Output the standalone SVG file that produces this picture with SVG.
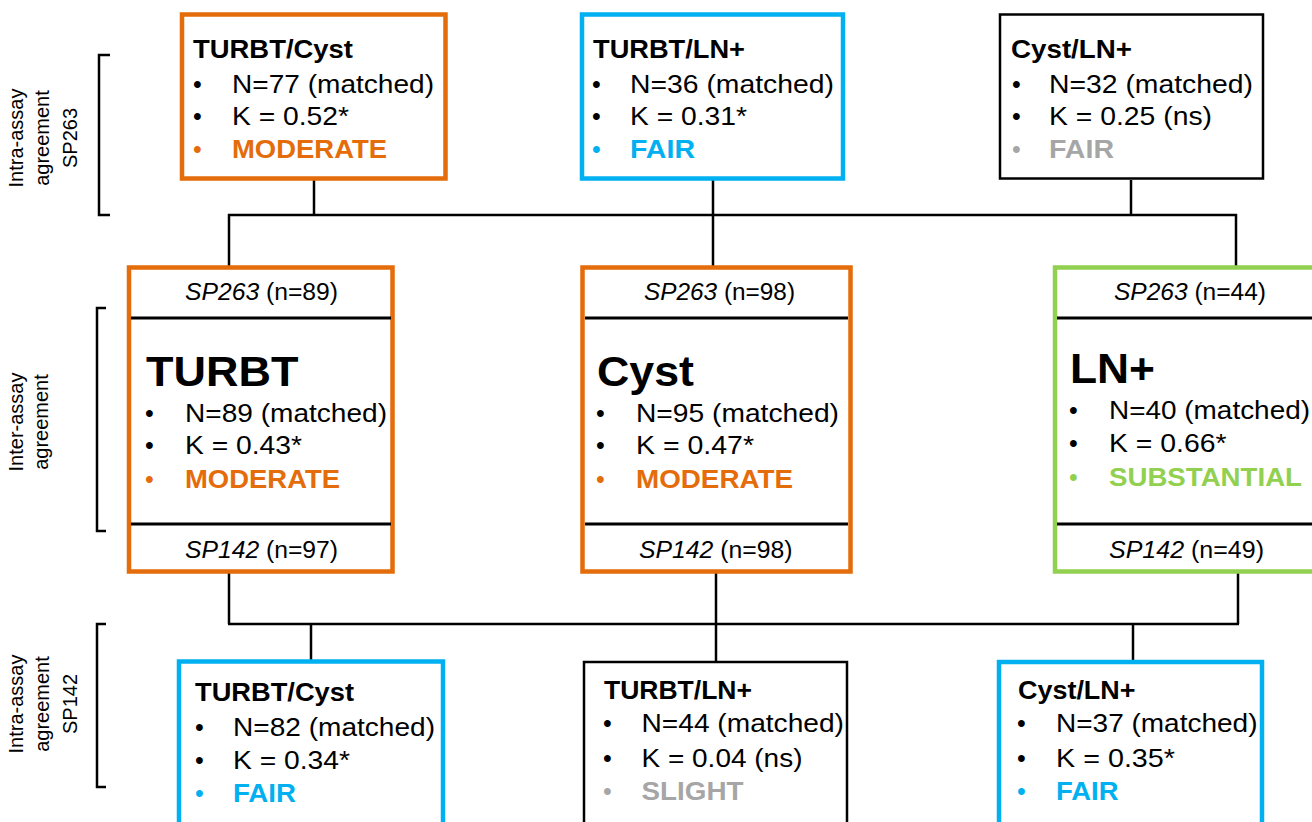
<svg xmlns="http://www.w3.org/2000/svg" width="1312" height="822" viewBox="0 0 1312 822">
<style>
text { font-family: "Liberation Sans", Arial, sans-serif; fill: #000; }
.t { font-size: 25px; font-weight: bold; }
.r { font-size: 25px; }
.k { font-size: 25px; font-weight: bold; }
.sp { font-size: 23px; }
.big { font-size: 42px; font-weight: bold; }
.side { font-size: 20px; }
.org { fill: #E46C0A; }
.blu { fill: #00B0F0; }
.grn { fill: #92D050; }
.gry { fill: #A6A6A6; }
.bo { fill: #fff; stroke: #E46C0A; stroke-width: 4.5; }
.bb { fill: #fff; stroke: #00B0F0; stroke-width: 4.5; }
.bg { fill: #fff; stroke: #92D050; stroke-width: 4.5; }
.bk { fill: #fff; stroke: #000; stroke-width: 2.5; }
.div { stroke: #000; stroke-width: 3; }
.con line, .brk path { stroke: #000; stroke-width: 2.5; fill: none; }
</style>

<g class="con" id="connectors">
  <line x1="314" y1="180" x2="314" y2="215"/>
  <line x1="713" y1="180" x2="713" y2="266"/>
  <line x1="1131" y1="180" x2="1131" y2="215"/>
  <line x1="228" y1="215" x2="1237" y2="215"/>
  <line x1="229" y1="214" x2="229" y2="266"/>
  <line x1="1236" y1="214" x2="1236" y2="266"/>
  <line x1="229" y1="573" x2="229" y2="624"/>
  <line x1="716" y1="573" x2="716" y2="661"/>
  <line x1="1238" y1="573" x2="1238" y2="624"/>
  <line x1="228" y1="624" x2="1239" y2="624"/>
  <line x1="311" y1="624" x2="311" y2="660"/>
  <line x1="1133" y1="624" x2="1133" y2="661"/>
</g>

<g class="brk" id="brackets">
  <path d="M110,55 H99 V215 H110"/>
  <path d="M106,308 H97 V531 H106"/>
  <path d="M106,624 H97 V787 H106"/>
</g>

<g id="label-intra-sp263">
  <text class="side" text-anchor="middle" transform="translate(22.5,138) rotate(-90)"><tspan x="0" y="0">Intra-assay</tspan><tspan x="0" y="26.5">agreement</tspan><tspan x="0" y="54">SP263</tspan></text>
</g>
<g id="label-inter">
  <text class="side" text-anchor="middle" transform="translate(22.5,422) rotate(-90)"><tspan x="0" y="0">Inter-assay</tspan><tspan x="0" y="25">agreement</tspan></text>
</g>
<g id="label-intra-sp142">
  <text class="side" text-anchor="middle" transform="translate(22.5,704) rotate(-90)"><tspan x="0" y="0">Intra-assay</tspan><tspan x="0" y="26.5">agreement</tspan><tspan x="0" y="54">SP142</tspan></text>
</g>

<!-- Top row -->
<g id="top-turbt-cyst">
  <rect class="bo" x="182" y="14.5" width="263.5" height="164"/>
  <text class="t" x="193" y="58" textLength="160" lengthAdjust="spacingAndGlyphs">TURBT/Cyst</text>
  <text class="r" x="193" y="93">•</text>
  <text class="r" x="232" y="93" textLength="202" lengthAdjust="spacingAndGlyphs">N=77 (matched)</text>
  <text class="r" x="193" y="125">•</text>
  <text class="r" x="232" y="125" textLength="117" lengthAdjust="spacingAndGlyphs">K = 0.52*</text>
  <text class="r org" x="193" y="158">•</text>
  <text class="k org" x="232" y="158" textLength="155" lengthAdjust="spacingAndGlyphs">MODERATE</text>
</g>

<g id="top-turbt-ln">
  <rect class="bb" x="582" y="14.5" width="261" height="164"/>
  <text class="t" x="593" y="58" textLength="152" lengthAdjust="spacingAndGlyphs">TURBT/LN+</text>
  <text class="r" x="592" y="93">•</text>
  <text class="r" x="630" y="93" textLength="204" lengthAdjust="spacingAndGlyphs">N=36 (matched)</text>
  <text class="r" x="592" y="125">•</text>
  <text class="r" x="630" y="125" textLength="117" lengthAdjust="spacingAndGlyphs">K = 0.31*</text>
  <text class="r blu" x="592" y="158">•</text>
  <text class="k blu" x="630" y="158" textLength="65" lengthAdjust="spacingAndGlyphs">FAIR</text>
</g>

<g id="top-cyst-ln">
  <rect class="bk" x="1000" y="14.5" width="263" height="164"/>
  <text class="t" x="1011" y="58" textLength="121" lengthAdjust="spacingAndGlyphs">Cyst/LN+</text>
  <text class="r" x="1012" y="93">•</text>
  <text class="r" x="1049" y="93" textLength="204" lengthAdjust="spacingAndGlyphs">N=32 (matched)</text>
  <text class="r" x="1012" y="125">•</text>
  <text class="r" x="1049" y="125" textLength="163" lengthAdjust="spacingAndGlyphs">K = 0.25 (ns)</text>
  <text class="r gry" x="1012" y="158">•</text>
  <text class="k gry" x="1049" y="158" textLength="65" lengthAdjust="spacingAndGlyphs">FAIR</text>
</g>

<!-- Middle row -->
<g id="mid-turbt">
  <rect class="bo" x="129" y="267.5" width="263.5" height="304"/>
  <line class="div" x1="131" y1="318" x2="391" y2="318"/>
  <line class="div" x1="131" y1="524" x2="391" y2="524"/>
  <text class="sp" x="185" y="300" textLength="153" lengthAdjust="spacingAndGlyphs"><tspan font-style="italic">SP263</tspan> (n=89)</text>
  <text class="big" x="146" y="386" textLength="152.5" lengthAdjust="spacingAndGlyphs">TURBT</text>
  <text class="r" x="145" y="422">•</text>
  <text class="r" x="185" y="422" textLength="202" lengthAdjust="spacingAndGlyphs">N=89 (matched)</text>
  <text class="r" x="145" y="454">•</text>
  <text class="r" x="185" y="454" textLength="117" lengthAdjust="spacingAndGlyphs">K = 0.43*</text>
  <text class="r org" x="145" y="488">•</text>
  <text class="k org" x="185" y="488" textLength="155" lengthAdjust="spacingAndGlyphs">MODERATE</text>
  <text class="sp" x="185" y="558" textLength="153" lengthAdjust="spacingAndGlyphs"><tspan font-style="italic">SP142</tspan> (n=97)</text>
</g>

<g id="mid-cyst">
  <rect class="bo" x="582.5" y="267.5" width="268" height="304"/>
  <line class="div" x1="585" y1="318" x2="848" y2="318"/>
  <line class="div" x1="585" y1="524" x2="848" y2="524"/>
  <text class="sp" x="644" y="300" textLength="151" lengthAdjust="spacingAndGlyphs"><tspan font-style="italic">SP263</tspan> (n=98)</text>
  <text class="big" x="597" y="386" textLength="97" lengthAdjust="spacingAndGlyphs">Cyst</text>
  <text class="r" x="596" y="422">•</text>
  <text class="r" x="636" y="422" textLength="203" lengthAdjust="spacingAndGlyphs">N=95 (matched)</text>
  <text class="r" x="596" y="454">•</text>
  <text class="r" x="636" y="454" textLength="118" lengthAdjust="spacingAndGlyphs">K = 0.47*</text>
  <text class="r org" x="596" y="488">•</text>
  <text class="k org" x="636" y="488" textLength="157" lengthAdjust="spacingAndGlyphs">MODERATE</text>
  <text class="sp" x="639" y="558" textLength="153.5" lengthAdjust="spacingAndGlyphs"><tspan font-style="italic">SP142</tspan> (n=98)</text>
</g>

<g id="mid-ln">
  <rect class="bg" x="1055" y="267.5" width="300" height="304"/>
  <line class="div" x1="1057" y1="318" x2="1312" y2="318"/>
  <line class="div" x1="1057" y1="524" x2="1312" y2="524"/>
  <text class="sp" x="1114" y="300" textLength="152" lengthAdjust="spacingAndGlyphs"><tspan font-style="italic">SP263</tspan> (n=44)</text>
  <text class="big" x="1070" y="383" textLength="85" lengthAdjust="spacingAndGlyphs">LN+</text>
  <text class="r" x="1069" y="419">•</text>
  <text class="r" x="1109" y="419" textLength="201" lengthAdjust="spacingAndGlyphs">N=40 (matched)</text>
  <text class="r" x="1069" y="452">•</text>
  <text class="r" x="1109" y="452" textLength="117.5" lengthAdjust="spacingAndGlyphs">K = 0.66*</text>
  <text class="r grn" x="1069" y="486">•</text>
  <text class="k grn" x="1109" y="486" textLength="193" lengthAdjust="spacingAndGlyphs">SUBSTANTIAL</text>
  <text class="sp" x="1109" y="558" textLength="155" lengthAdjust="spacingAndGlyphs"><tspan font-style="italic">SP142</tspan> (n=49)</text>
</g>

<!-- Bottom row -->
<g id="bot-turbt-cyst">
  <rect class="bb" x="179" y="661.5" width="264" height="190"/>
  <text class="t" x="195" y="701" textLength="159" lengthAdjust="spacingAndGlyphs">TURBT/Cyst</text>
  <text class="r" x="195" y="736">•</text>
  <text class="r" x="233" y="736" textLength="202" lengthAdjust="spacingAndGlyphs">N=82 (matched)</text>
  <text class="r" x="195" y="769">•</text>
  <text class="r" x="233" y="769" textLength="117" lengthAdjust="spacingAndGlyphs">K = 0.34*</text>
  <text class="r blu" x="195" y="802">•</text>
  <text class="k blu" x="233" y="802" textLength="63" lengthAdjust="spacingAndGlyphs">FAIR</text>
</g>

<g id="bot-turbt-ln">
  <rect class="bk" x="584" y="662" width="263" height="190"/>
  <text class="t" x="604" y="699" textLength="148" lengthAdjust="spacingAndGlyphs">TURBT/LN+</text>
  <text class="r" x="603" y="732">•</text>
  <text class="r" x="641.5" y="732" textLength="202.5" lengthAdjust="spacingAndGlyphs">N=44 (matched)</text>
  <text class="r" x="603" y="767">•</text>
  <text class="r" x="641.5" y="767" textLength="161" lengthAdjust="spacingAndGlyphs">K = 0.04 (ns)</text>
  <text class="r gry" x="603" y="800">•</text>
  <text class="k gry" x="641.5" y="800" textLength="102" lengthAdjust="spacingAndGlyphs">SLIGHT</text>
</g>

<g id="bot-cyst-ln">
  <rect class="bb" x="999" y="662" width="263" height="190"/>
  <text class="t" x="1018" y="699" textLength="117.5" lengthAdjust="spacingAndGlyphs">Cyst/LN+</text>
  <text class="r" x="1017" y="732">•</text>
  <text class="r" x="1056" y="732" textLength="201.5" lengthAdjust="spacingAndGlyphs">N=37 (matched)</text>
  <text class="r" x="1017" y="767">•</text>
  <text class="r" x="1056" y="767" textLength="119" lengthAdjust="spacingAndGlyphs">K = 0.35*</text>
  <text class="r blu" x="1017" y="800">•</text>
  <text class="k blu" x="1056" y="800" textLength="62.5" lengthAdjust="spacingAndGlyphs">FAIR</text>
</g>
</svg>
